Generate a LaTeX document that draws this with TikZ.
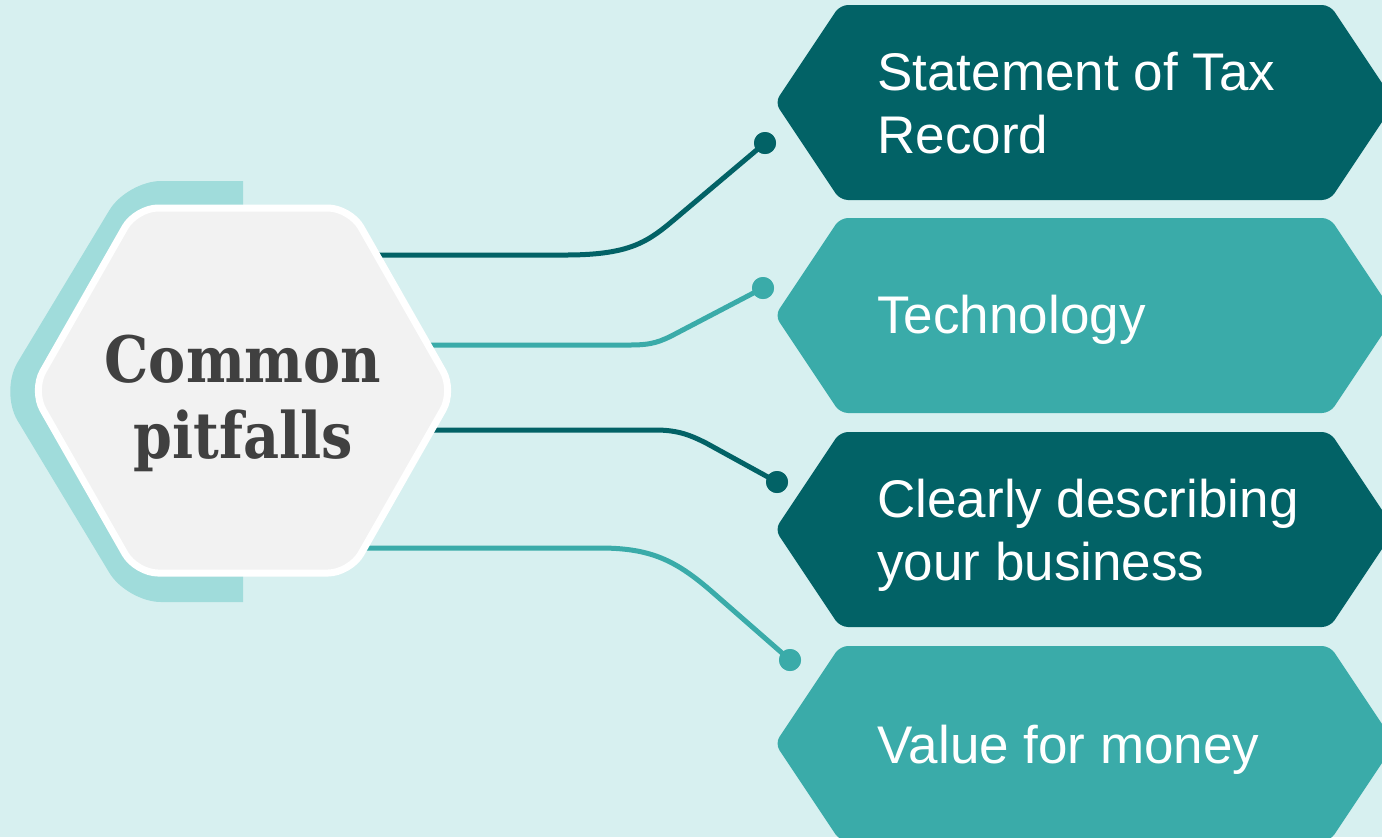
\documentclass[tikz,border=0pt]{standalone}
\usepackage{fontspec}
\setmainfont{Liberation Sans}
\newfontfamily\titlefont[FakeStretch=0.87]{DejaVu Serif}
\definecolor{bgteal}{HTML}{D7F0F0}
\definecolor{darkteal}{HTML}{026266}
\definecolor{midteal}{HTML}{3AABA9}
\definecolor{paleteal}{HTML}{A0DCDB}
\definecolor{hexfill}{HTML}{F2F2F2}
\definecolor{titlegray}{HTML}{404040}

% one arrow-shaped box on the right; #1 = top edge, #2 = colour
\newcommand\pitfallbox[2]{%
  \fill[#2, rounded corners=4pt]
    (1000,#1) -- (1330,#1) -- (1395,#1+97.5) -- (1330,#1+195)
    -- (840,#1+195) -- (775,#1+97.5) -- (840,#1) -- cycle;}

\begin{document}
\begin{tikzpicture}[x=0.5pt,y=-0.5pt,
  boxtext/.style={anchor=west, align=left, text=white, inner sep=0pt,
    font=\fontsize{26.5}{31.5}\selectfont},
  titletext/.style={align=center, text=titlegray, inner sep=0pt,
    font=\titlefont\bfseries\fontsize{32}{38}\selectfont},
  dotnode/.style={circle, inner sep=0pt, minimum size=11pt, fill=#1},
  link/.style={line width=2.5pt, draw=#1}]

\useasboundingbox (0,0) rectangle (1382,837);
\clip (0,0) rectangle (1382,837);
\fill[bgteal] (0,0) rectangle (1382,837);

% pale backing shape behind the central hexagon
\begin{scope}
  \clip (0,0) rectangle (243,837);
  \fill[paleteal, rounded corners=17pt]
    (243,181) -- (400,181) -- (517,391.5) -- (400,602)
    -- (127,602) -- (0,391.5) -- (127,181) -- cycle;
\end{scope}

% connector end points
\coordinate (s1) at (360,255);
\coordinate (s2) at (410,345);
\coordinate (s3) at (415,430);
\coordinate (s4) at (350,548);
\node[dotnode=darkteal] (d1) at (765,143) {};
\node[dotnode=midteal]  (d2) at (763,288) {};
\node[dotnode=darkteal] (d3) at (777,482) {};
\node[dotnode=midteal]  (d4) at (790,660) {};

% connectors
\draw[link=darkteal] (s1) -- (565,255) .. controls (635,255) and (650,240) .. (682,213) -- (d1.center);
\draw[link=midteal]  (s2) -- (630,345) .. controls (652,345) and (660,342) .. (677,333) -- (d2.center);
\draw[link=darkteal] (s3) -- (655,430) .. controls (678,430) and (690,435) .. (706,443) -- (d3.center);
\draw[link=midteal]  (s4) -- (600,548) .. controls (650,548) and (675,560) .. (710,590) -- (d4.center);

% central hexagon
\filldraw[fill=hexfill, draw=white, line width=3.5pt, rounded corners=11pt]
  (243,208) -- (350,208) -- (454,390.5) -- (350,573)
  -- (136,573) -- (32,390.5) -- (136,208) -- cycle;
\node[titletext] (hub) at (243,403) {Common\\pitfalls};

% boxes on the right
\pitfallbox{5}{darkteal}
\pitfallbox{218}{midteal}
\pitfallbox{432}{darkteal}
\pitfallbox{646}{midteal}

\node[boxtext] (b1) at (877,103) {Statement of Tax\\Record};
\node[boxtext] (b2) at (877,320) {Technology};
\node[boxtext] (b3) at (877,535) {Clearly describing\\your business};
\node[boxtext] (b4) at (877,750) {Value for money};

% dots drawn over the connector ends
\node[dotnode=darkteal] at (d1) {};
\node[dotnode=midteal]  at (d2) {};
\node[dotnode=darkteal] at (d3) {};
\node[dotnode=midteal]  at (d4) {};
\end{tikzpicture}
\end{document}
